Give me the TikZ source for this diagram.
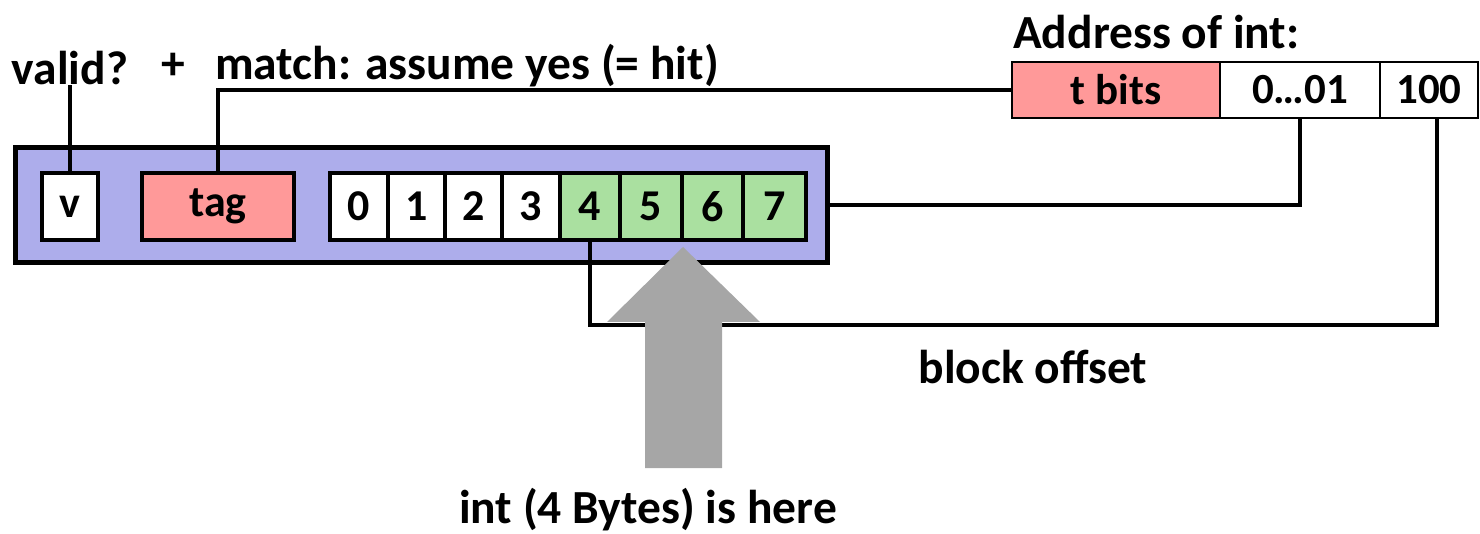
\documentclass[tikz,border=0pt]{standalone}
\usepackage{fontspec}
\setmainfont{Carlito}
\definecolor{boxblue}{RGB}{173,173,235}
\definecolor{tagred}{RGB}{255,153,153}
\definecolor{bytegreen}{RGB}{170,224,160}
\definecolor{arrowgray}{RGB}{166,166,166}
\begin{document}
\begin{tikzpicture}[x=1pt,y=-1pt,
  lbl/.style={font=\fontsize{47.5}{52}\selectfont\bfseries, inner sep=0pt},
  cell/.style={draw=black, line width=4.5pt, inner sep=0pt, font=\fontsize{44}{48}\selectfont\bfseries},
  addr/.style={draw=black, line width=2.5pt, inner sep=0pt, minimum height=56pt, font=\fontsize{43}{47}\selectfont\bfseries},
  wire/.style={line width=4pt}]
\useasboundingbox (0,0) rectangle (1480,534);
\node[draw=black, fill=boxblue, line width=5pt, minimum width=812pt, minimum height=115pt, inner sep=0pt] (outer) at (421,205.5) {};
\node[cell, fill=white, minimum width=56pt, minimum height=67pt] (v) at (70,206.5) {v};
\node[cell, fill=tagred, minimum width=152pt, minimum height=67pt] (tag) at (218,206.5) {tag};
\node[cell, fill=white, minimum width=58pt, minimum height=67pt] (b0) at (359,206.5) {0};
\node[cell, fill=white, minimum width=57pt, minimum height=67pt] (b1) at (416.5,206.5) {1};
\node[cell, fill=white, minimum width=57pt, minimum height=67pt] (b2) at (473.5,206.5) {2};
\node[cell, fill=white, minimum width=58pt, minimum height=67pt] (b3) at (531,206.5) {3};
\node[cell, fill=bytegreen, minimum width=60pt, minimum height=67pt] (b4) at (590,206.5) {4};
\node[cell, fill=bytegreen, minimum width=62pt, minimum height=67pt] (b5) at (651,206.5) {5};
\node[cell, fill=bytegreen, minimum width=61pt, minimum height=67pt] (b6) at (712.5,206.5) {6};
\node[cell, fill=bytegreen, minimum width=63pt, minimum height=67pt] (b7) at (774.5,206.5) {7};
% address
\node[lbl, anchor=west] (addrlbl) at (1013,32) {Address of int:};
\node[addr, fill=tagred, minimum width=208pt] (tb) at (1116,90) {t bits};
\node[addr, fill=white, minimum width=160pt] (mid) at (1300,90) {0…01};
\node[addr, fill=white, minimum width=98pt] (off) at (1429,90) {100};
% top labels
\node[lbl] (valid) at (70,68) {valid?};
\node[lbl] (plus) at (173,66) {+};
\node[lbl, anchor=west] (match) at (215,66) {match: assume yes (= hit)};
\node[lbl] (blk) at (1033,367) {block offset};
\node[lbl] (here) at (648,510) {int (4 Bytes) is here};
% wires
\draw[wire] (v.north) -- (v.north |- valid.south);
\draw[wire] (tag.north) |- (tb.west);
\draw[wire] (outer.east) -| (mid.south);
\coordinate (corner) at (1437,325);
\draw[wire] (b4.south) |- (corner) -- (corner |- off.south);
% big arrow
\fill[arrowgray] (683,247) -- (760,322) -- (722,322) -- (722,468) -- (645,468) -- (645,322) -- (607,322) -- cycle;
\end{tikzpicture}
\end{document}
